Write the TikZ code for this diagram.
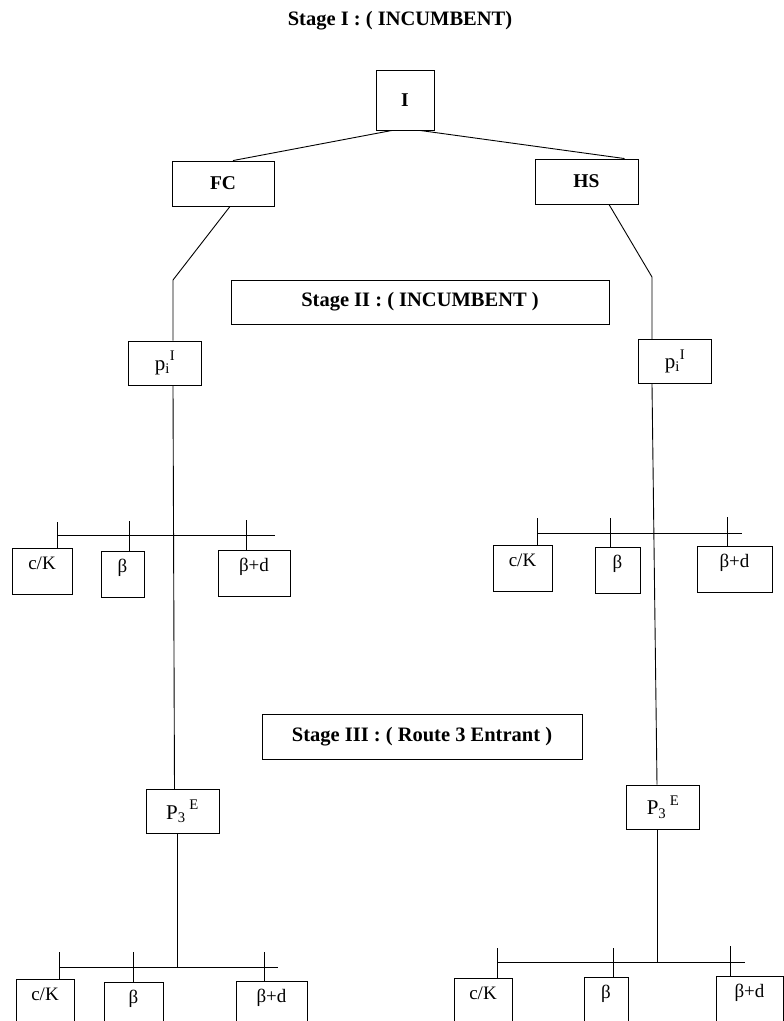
\documentclass[tikz,border=0pt]{standalone}
\usepackage{fontspec}
\setmainfont{Liberation Serif}
\begin{document}
\begin{tikzpicture}[x=1pt,y=-1pt,line width=0.9pt,
  capt/.style={font=\fontsize{20.5}{24}\selectfont\bfseries},
  topbox/.style={draw,inner sep=0pt,font=\fontsize{19.5}{22}\selectfont\bfseries},
  stagebox/.style={draw,inner sep=0pt,minimum height=44pt,font=\fontsize{20.5}{24}\selectfont\bfseries},
  pbox/.style={draw,inner sep=0pt,minimum width=73pt,minimum height=44pt,font=\fontsize{21}{24}\selectfont},
  leaf/.style={draw,inner sep=0pt,text height=21pt,text depth=25pt,font=\fontsize{19}{22}\selectfont}]
\useasboundingbox (0,0) rectangle (784,1021);
\clip (0,0) rectangle (784,1021);
% captions
\node[capt] (t1) at (400,21) {Stage I : ( INCUMBENT)};
% stage I
\node[topbox,minimum width=58pt,minimum height=60pt] (I) at (405,100) {I};
\node[topbox,minimum width=102pt,minimum height=45pt] (FC) at (223,183.5) {FC};
\node[topbox,minimum width=103pt,minimum height=45pt] (HS) at (586.5,181.5) {HS};
\draw ([xshift=-13pt]I.south) -- ([xshift=10pt]FC.north);
\draw ([xshift=15pt]I.south) -- ([xshift=38pt]HS.north);
% stage II
\node[stagebox,minimum width=378pt] (s2) at (420,302) {Stage II : ( INCUMBENT )};
\node[pbox] (pL) at (165,363) {p\textsubscript{i}\raisebox{2pt}{\textsuperscript{I}}};
\node[pbox] (pR) at (675,361.5) {p\textsubscript{i}\raisebox{2pt}{\textsuperscript{I}}};
\coordinate (bendL) at (173,280);
\coordinate (bendR) at (652,277);
\draw ([xshift=7pt]FC.south) -- (bendL) -- (bendL |- pL.north);
\draw ([xshift=22.5pt]HS.south) -- (bendR) -- (bendR |- pR.north);
% stage II leaves left
\node[leaf,minimum width=60pt] (cK1) at (42,571) {c/K};
\node[leaf,minimum width=43pt] (b1) at (122.5,574.5) {β};
\node[leaf,minimum width=72pt] (bd1) at (254,573.5) {β+d};
\coordinate (hL1a) at (57,535);
\coordinate (hL1b) at (275,535);
\draw (hL1a) -- (hL1b);
\draw ([xshift=15pt]cK1.north) -- ++(0,-26);
\draw ([xshift=6.5pt]b1.north) -- ++(0,-30);
\draw ([xshift=-8pt]bd1.north) -- ++(0,-30);
% stage II leaves right
\node[leaf,minimum width=59pt] (cK2) at (522.5,568) {c/K};
\node[leaf,minimum width=45pt] (b2) at (617.5,570) {β};
\node[leaf,minimum width=75pt] (bd2) at (734.5,569.5) {β+d};
\coordinate (hR1a) at (537,533);
\coordinate (hR1b) at (742,533);
\draw (hR1a) -- (hR1b);
\draw ([xshift=14.5pt]cK2.north) -- ++(0,-27);
\draw ([xshift=-7.5pt]b2.north) -- ++(0,-29);
\draw ([xshift=-7.5pt]bd2.north) -- ++(0,-29);
% stage III
\node[stagebox,minimum width=320pt,minimum height=45pt] (s3) at (422,736.5) {Stage III : ( Route 3 Entrant )};
\node[pbox] (P3L) at (182.5,811.5) {P\textsubscript{3}\,\raisebox{2pt}{\textsuperscript{E}}};
\node[pbox] (P3R) at (663,807) {P\textsubscript{3}\,\raisebox{2pt}{\textsuperscript{E}}};
\draw ([xshift=8pt]pL.south) -- ([xshift=-8pt]P3L.north);
\draw ([xshift=-23pt]pR.south) -- ([xshift=-6pt]P3R.north);
% stage III leaves left
\node[leaf,minimum width=58pt] (cK3) at (45,1002) {c/K};
\node[leaf,minimum width=59pt] (b3) at (133.5,1005) {β};
\node[leaf,minimum width=71pt] (bd3) at (271.5,1004) {β+d};
\coordinate (hL2a) at (59,967);
\coordinate (hL2b) at (278,967);
\draw (hL2a) -- (hL2b);
\draw ([xshift=-5.5pt]P3L.south) -- ([xshift=-5.5pt]P3L.south |- hL2a);
\draw ([xshift=14pt]cK3.north) -- ++(0,-27);
\draw (b3.north) -- ++(0,-30);
\draw ([xshift=-7.5pt]bd3.north) -- ++(0,-29);
% stage III leaves right
\node[leaf,minimum width=58pt] (cK4) at (483,1001) {c/K};
\node[leaf,minimum width=44pt] (b4) at (606,1000) {β};
\node[leaf,minimum width=67pt] (bd4) at (749.5,999) {β+d};
\coordinate (hR2a) at (497,962);
\coordinate (hR2b) at (745,962);
\draw (hR2a) -- (hR2b);
\draw ([xshift=-6pt]P3R.south) -- ([xshift=-6pt]P3R.south |- hR2a);
\draw ([xshift=14pt]cK4.north) -- ++(0,-30);
\draw ([xshift=7pt]b4.north) -- ++(0,-29);
\draw ([xshift=-19.5pt]bd4.north) -- ++(0,-30);
\end{tikzpicture}
\end{document}
